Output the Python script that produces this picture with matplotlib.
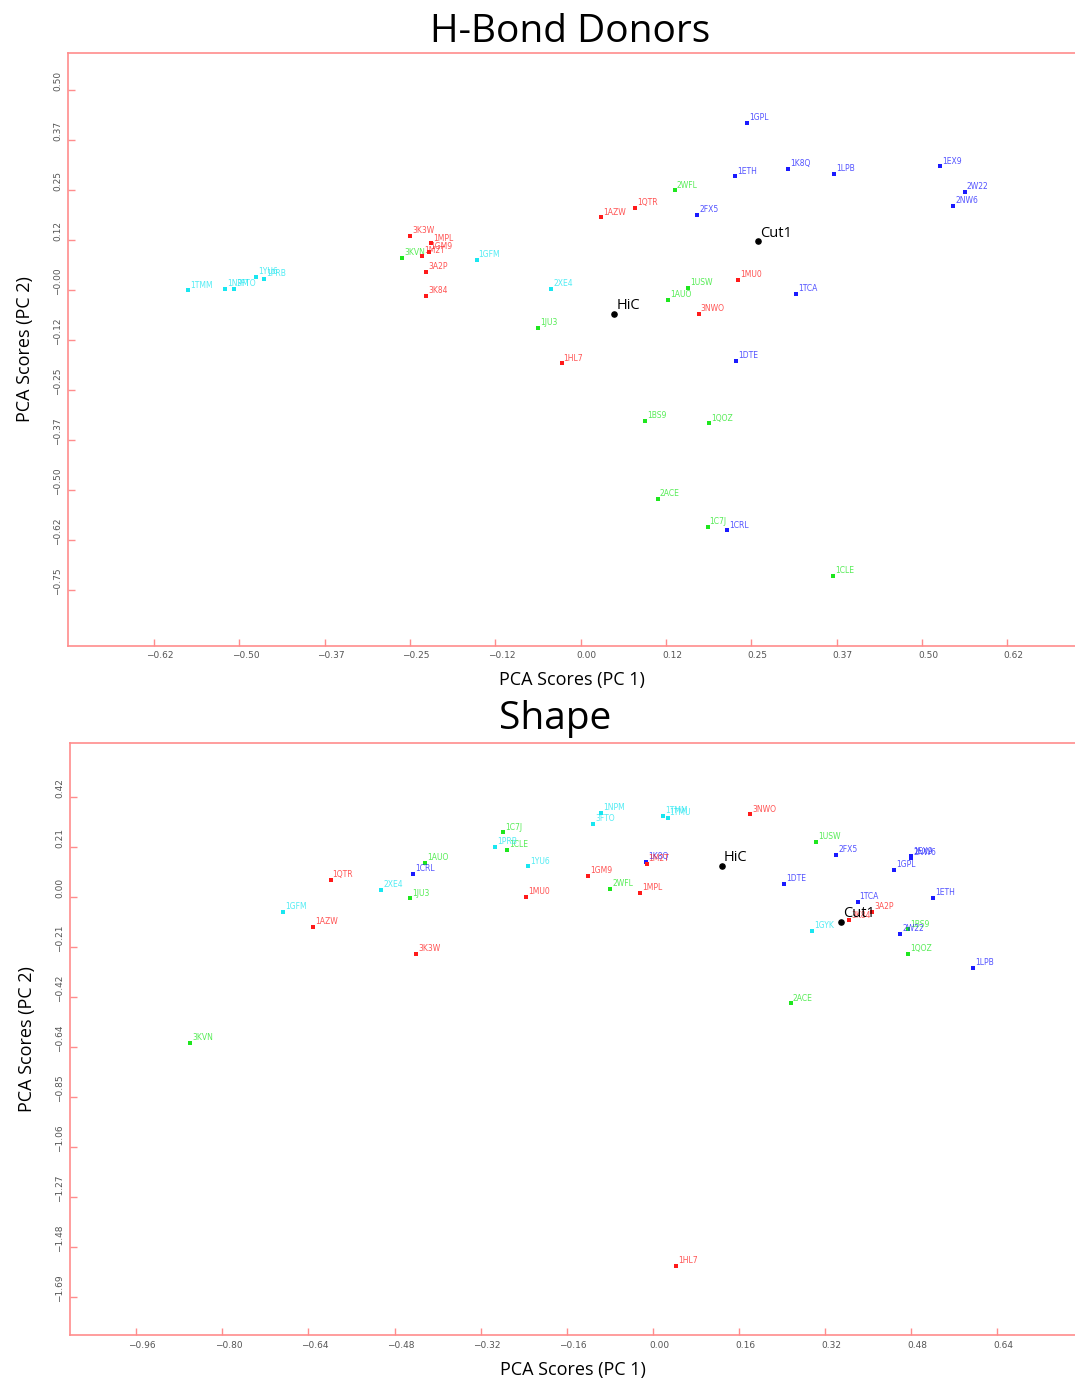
import numpy as np
import matplotlib
matplotlib.use('Agg')
import matplotlib.pyplot as plt
from matplotlib.transforms import ScaledTranslation

# ---- H-Bond Donors scores ----
hbd_names = ['1GPL', '1ETH', '1K8Q', '1LPB', '1EX9', '2W22', '2NW6', '2FX5', '1TCA', '1DTE', '1CRL',
             '2WFL', '1USW', '1AUO', '1JU3', '1BS9', '1QOZ', '2ACE', '1C7J', '1CLE', '3KVN',
             '1QTR', '1AZW', '1MU0', '3NWO', '1HL7', '3K3W', '1MPL', '1GM9', '1M2T', '3A2P', '3K84',
             '1TMM', '1NPM', '3FTO', '1YU6', '1PRB', '1GFM', '2XE4',
             'HiC', 'Cut1']
hbd_pc1 = [0.243, 0.225, 0.303, 0.369, 0.524, 0.560, 0.543, 0.170, 0.314, 0.226, 0.213,
           0.137, 0.157, 0.127, -0.062, 0.094, 0.187, 0.112, 0.185, 0.368, -0.261,
           0.079, 0.029, 0.229, 0.172, -0.028, -0.249, -0.219, -0.222, -0.232, -0.226, -0.226,
           -0.573, -0.519, -0.506, -0.474, -0.462, -0.152, -0.043,
           0.049, 0.259]
hbd_pc2 = [0.417, 0.283, 0.301, 0.290, 0.308, 0.245, 0.210, 0.188, -0.010, -0.176, -0.599,
           0.248, 0.006, -0.024, -0.094, -0.326, -0.332, -0.520, -0.590, -0.712, 0.080,
           0.205, 0.181, 0.025, -0.059, -0.183, 0.134, 0.116, 0.095, 0.085, 0.045, -0.015,
           -0.001, 0.002, 0.002, 0.033, 0.027, 0.075, 0.002,
           -0.059, 0.121]
hbd_group = ['b'] * 11 + ['g'] * 10 + ['r'] * 11 + ['c'] * 7 + ['k'] * 2

hbd_xticklabels = ['\u22120.62', '\u22120.50', '\u22120.37', '\u22120.25', '\u22120.12', '0.00',
                   '0.12', '0.25', '0.37', '0.50', '0.62']
hbd_yticklabels = ['\u22120.75', '\u22120.62', '\u22120.50', '\u22120.37', '\u22120.25', '\u22120.12',
                   '\u22120.00', '0.12', '0.25', '0.37', '0.50']

# ---- Shape scores ----
shp_names = ['1C7J', '1CLE', '1AUO', '1JU3', '2WFL', '1USW', '1BS9', '1QOZ', '2ACE', '3KVN',
             '1CRL', '1K8Q', '2FX5', '1EX9', '2NW6', '1GPL', '1DTE', '1ETH', '1TCA', '2W22', '1LPB',
             '1QTR', '1AZW', '3K3W', '1MU0', '1GM9', '1MPL', '1M2T', '3NWO', '3A2P', '3K84', '1HL7',
             '1PRB', '1YU6', '2XE4', '1GFM', '1NPM', '3FTO', '1TMM', '1TMU', '1GYK',
             'HiC', 'Cut1']
shp_pc1 = [-0.279, -0.271, -0.423, -0.452, -0.079, 0.303, 0.474, 0.474, 0.256, -0.860,
           -0.445, -0.013, 0.340, 0.479, 0.480, 0.448, 0.243, 0.520, 0.380, 0.459, 0.594,
           -0.599, -0.632, -0.440, -0.236, -0.120, -0.024, -0.012, 0.181, 0.407, 0.365, 0.043,
           -0.293, -0.232, -0.505, -0.687, -0.097, -0.111, 0.019, 0.027, 0.295,
           0.128, 0.350]
shp_pc2 = [0.274, 0.199, 0.145, -0.006, 0.035, 0.234, -0.137, -0.241, -0.450, -0.618,
           0.097, 0.148, 0.177, 0.172, 0.167, 0.114, 0.056, -0.003, -0.022, -0.157, -0.299,
           0.072, -0.127, -0.241, 0.000, 0.088, 0.017, 0.140, 0.350, -0.064, -0.099, -1.563,
           0.213, 0.130, 0.031, -0.062, 0.356, 0.310, 0.344, 0.335, -0.144,
           0.133, -0.105]
shp_group = ['g'] * 10 + ['b'] * 11 + ['r'] * 11 + ['c'] * 9 + ['k'] * 2

shp_xticklabels = ['\u22120.96', '\u22120.80', '\u22120.64', '\u22120.48', '\u22120.32', '\u22120.16',
                   '0.00', '0.16', '0.32', '0.48', '0.64']
shp_yticklabels = ['\u22121.69', '\u22121.48', '\u22121.27', '\u22121.06', '\u22120.85', '\u22120.64',
                   '\u22120.42', '\u22120.21', '0.00', '0.21', '0.42']

colors = {'r': '#ff1a1a', 'g': '#1ee61e', 'b': '#1a1aff', 'c': '#19e6f0', 'k': '#000000'}
axis_pink = '#ff8c8c'
tick_font = ['Liberation Sans Narrow', 'DejaVu Sans']
label_font = ['Open Sans', 'DejaVu Sans']


def draw_panel(fig, rect, names, pc1, pc2, groups, xlabels, xstep, xfirst,
               ylabels, ystep, yfirst, xlim, ylim):
    ax = fig.add_axes(rect)
    ax.set_xlim(*xlim)
    ax.set_ylim(*ylim)

    for sp in ['left', 'bottom', 'top']:
        ax.spines[sp].set_color(axis_pink)
        ax.spines[sp].set_linewidth(1.2)
    ax.spines['right'].set_visible(False)

    xt = (np.arange(len(xlabels)) + xfirst) * xstep
    yt = (np.arange(len(ylabels)) + yfirst) * ystep
    ax.set_xticks(xt)
    ax.set_xticklabels(xlabels)
    ax.set_yticks(yt)
    ax.set_yticklabels(ylabels, rotation=90, va='center')
    ax.tick_params(direction='in', length=5, width=1, color=axis_pink,
                   labelsize=6.5, labelcolor='#555555', pad=4)
    for lab in ax.get_xticklabels() + ax.get_yticklabels():
        lab.set_family(tick_font)
    # labels sit a little off their ticks
    for lab in ax.get_xticklabels():
        lab.set_transform(lab.get_transform() + ScaledTranslation(0.06, 0, fig.dpi_scale_trans))
    for lab in ax.get_yticklabels():
        lab.set_transform(lab.get_transform() + ScaledTranslation(0, 0.09, fig.dpi_scale_trans))

    for n, x, y, g in zip(names, pc1, pc2, groups):
        c = colors[g]
        if g == 'k':
            ax.scatter(x, y, s=14, marker='o', color=c, zorder=4)
            ax.annotate(n, (x, y), xytext=(1.5, 0.5), textcoords='offset points',
                        fontsize=10.5, family=label_font, va='bottom', color=c, zorder=5)
        else:
            ax.scatter(x, y, s=8, marker='s', color=c, linewidths=0, zorder=3)
            ax.annotate(n, (x, y), xytext=(1.5, 0.5), textcoords='offset points',
                        fontsize=5.5, va='bottom', color=c, alpha=0.75, zorder=3)

    ax.set_xlabel('PCA Scores (PC 1)', fontsize=13, family=label_font, labelpad=8)
    ax.set_ylabel('PCA Scores (PC 2)', fontsize=13, family=label_font, labelpad=14)
    return ax


fig = plt.figure(figsize=(10.75, 13.8), dpi=100)
W, H = 1075.0, 1380.0

# H-Bond Donors panel
draw_panel(fig, [68 / W, 1 - 645.7 / H, (W - 68) / W, (645.7 - 52.7) / H],
           hbd_names, hbd_pc1, hbd_pc2, hbd_group,
           hbd_xticklabels, 0.1245, -5, hbd_yticklabels, 0.1245, -6,
           (-0.748, 0.721), (-0.886, 0.591))
fig.text(570 / W, 1 - 32 / H, 'H-Bond Donors', fontsize=28, family=label_font,
         ha='center', va='center')

# Shape panel
draw_panel(fig, [70 / W, 1 - 1335 / H, (W - 70) / W, (1335 - 743) / H],
           shp_names, shp_pc1, shp_pc2, shp_group,
           shp_xticklabels, 0.16, -6, shp_yticklabels, 0.2118, -8,
           (-1.083, 0.784), (-1.855, 0.652))
fig.text(555 / W, 1 - 719 / H, 'Shape', fontsize=28, family=label_font,
         ha='center', va='center')

fig.savefig('out.png', dpi=100)
